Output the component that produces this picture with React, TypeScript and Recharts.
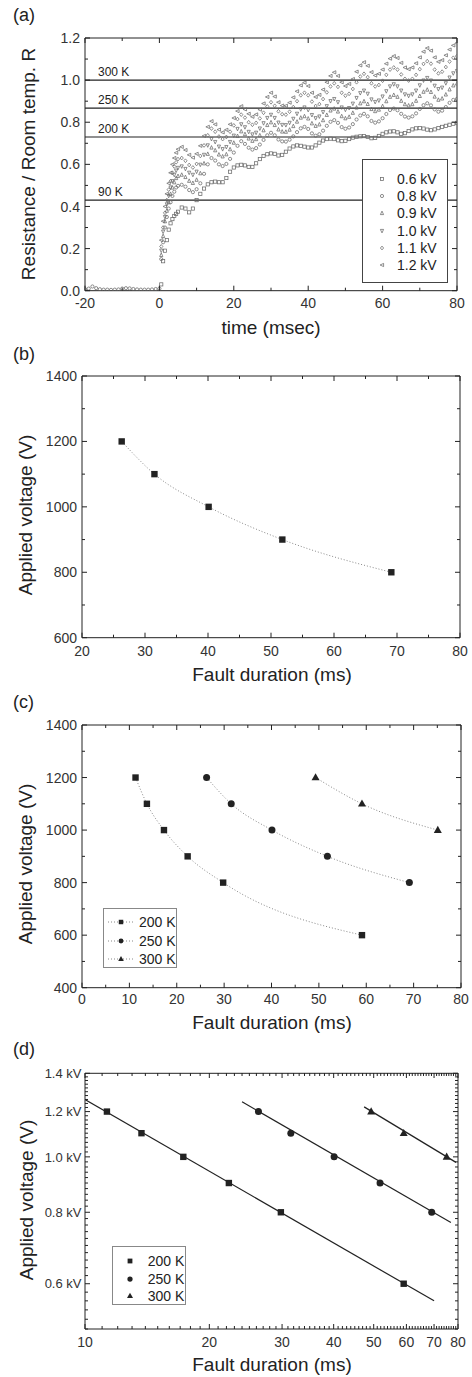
import React from "react";
import {
  ScatterChart,
  Scatter,
  ComposedChart,
  Line,
  XAxis,
  YAxis,
  ReferenceLine,
  Legend,
} from "recharts";

const FONT = "'Liberation Sans', Arial, Helvetica, sans-serif";
const INK = "#222";
const TICK_TXT = "#333";

// ---------- (a) resistance ratio vs time ----------
const timeMs = [
  0.5, 1, 1.5, 2, 2.5, 3, 3.5, 4, 4.5, 5,
  6, 7, 8, 9, 10, 11, 12, 13, 14,
  15, 16, 17, 18, 19, 20, 21, 22,
  23, 24, 25, 26, 27, 28, 29, 30,
  31, 32, 33, 34, 35, 36, 37, 38, 39,
  40, 41, 42, 43, 44, 45, 46, 47,
  48, 49, 50, 51, 52, 53, 54, 55,
  56, 57, 58, 59, 60, 61, 62, 63,
  64, 65, 66, 67, 68, 69, 70, 71, 72,
  73, 74, 75, 76, 77, 78, 79, 80,
];

const r06kV = [
  0.03, 0.14, 0.19, 0.24, 0.29, 0.32, 0.34, 0.355, 0.365, 0.375,
  0.395, 0.39, 0.372, 0.39, 0.43, 0.46, 0.485, 0.505, 0.515,
  0.518, 0.515, 0.515, 0.535, 0.565, 0.585, 0.595, 0.598,
  0.595, 0.588, 0.588, 0.605, 0.625, 0.64, 0.648, 0.652,
  0.65, 0.642, 0.645, 0.66, 0.675, 0.685, 0.69, 0.688, 0.684,
  0.68, 0.68, 0.69, 0.703, 0.713, 0.72, 0.722, 0.72,
  0.714, 0.71, 0.712, 0.72, 0.727, 0.731, 0.733, 0.734,
  0.73, 0.724, 0.726, 0.735, 0.745, 0.752, 0.756, 0.757,
  0.752, 0.745, 0.748, 0.758, 0.766, 0.771, 0.772, 0.77, 0.765,
  0.762, 0.766, 0.772, 0.778, 0.783, 0.788, 0.793, 0.797,
];
const r08kV = [
  0.15, 0.23, 0.3, 0.35, 0.39, 0.42, 0.45, 0.47, 0.49, 0.498,
  0.503, 0.494, 0.478, 0.468, 0.482, 0.51, 0.555, 0.6, 0.63,
  0.618, 0.6, 0.592, 0.602, 0.626, 0.656, 0.688, 0.71,
  0.697, 0.679, 0.67, 0.677, 0.694, 0.716, 0.738, 0.75,
  0.738, 0.718, 0.709, 0.708, 0.717, 0.733, 0.753, 0.771, 0.778,
  0.768, 0.747, 0.736, 0.743, 0.76, 0.783, 0.802, 0.81,
  0.797, 0.777, 0.769, 0.775, 0.791, 0.813, 0.832, 0.84,
  0.828, 0.806, 0.798, 0.804, 0.819, 0.839, 0.858, 0.865,
  0.857, 0.84, 0.827, 0.822, 0.828, 0.842, 0.863, 0.881, 0.89,
  0.88, 0.861, 0.85, 0.855, 0.872, 0.892, 0.906, 0.911,
];
const r09kV = [
  0.17, 0.26, 0.33, 0.38, 0.42, 0.46, 0.49, 0.515, 0.535, 0.545,
  0.551, 0.54, 0.522, 0.512, 0.527, 0.558, 0.605, 0.65, 0.68,
  0.667, 0.647, 0.638, 0.648, 0.672, 0.703, 0.735, 0.757,
  0.744, 0.723, 0.712, 0.72, 0.738, 0.762, 0.787, 0.8,
  0.787, 0.766, 0.756, 0.755, 0.765, 0.782, 0.803, 0.822, 0.829,
  0.818, 0.795, 0.783, 0.79, 0.81, 0.835, 0.856, 0.865,
  0.851, 0.829, 0.819, 0.826, 0.845, 0.87, 0.89, 0.9,
  0.887, 0.863, 0.853, 0.86, 0.877, 0.9, 0.921, 0.93,
  0.921, 0.902, 0.886, 0.88, 0.886, 0.902, 0.925, 0.945, 0.955,
  0.944, 0.922, 0.907, 0.913, 0.932, 0.956, 0.975, 0.984,
];
const r10kV = [
  0.19, 0.28, 0.35, 0.41, 0.45, 0.49, 0.52, 0.55, 0.57, 0.583,
  0.59, 0.578, 0.56, 0.55, 0.565, 0.598, 0.645, 0.69, 0.72,
  0.706, 0.684, 0.672, 0.682, 0.706, 0.736, 0.768, 0.79,
  0.776, 0.754, 0.742, 0.75, 0.77, 0.795, 0.82, 0.835,
  0.82, 0.798, 0.787, 0.786, 0.797, 0.816, 0.84, 0.861, 0.87,
  0.858, 0.834, 0.819, 0.827, 0.848, 0.876, 0.9, 0.91,
  0.895, 0.87, 0.859, 0.867, 0.888, 0.915, 0.938, 0.95,
  0.935, 0.908, 0.896, 0.903, 0.922, 0.947, 0.97, 0.98,
  0.97, 0.95, 0.932, 0.925, 0.932, 0.95, 0.975, 0.998, 1.01,
  0.998, 0.973, 0.957, 0.964, 0.985, 1.012, 1.032, 1.043,
];
const r11kV = [
  0.21, 0.3, 0.37, 0.43, 0.48, 0.52, 0.56, 0.59, 0.61, 0.625,
  0.63, 0.617, 0.597, 0.585, 0.602, 0.64, 0.69, 0.738, 0.77,
  0.755, 0.732, 0.72, 0.73, 0.755, 0.785, 0.815, 0.836,
  0.822, 0.8, 0.788, 0.797, 0.818, 0.845, 0.875, 0.895,
  0.878, 0.852, 0.838, 0.836, 0.85, 0.872, 0.9, 0.928, 0.94,
  0.928, 0.898, 0.877, 0.886, 0.91, 0.942, 0.97, 0.985,
  0.968, 0.94, 0.926, 0.935, 0.958, 0.99, 1.017, 1.03,
  1.014, 0.985, 0.97, 0.977, 0.997, 1.025, 1.05, 1.06,
  1.05, 1.027, 1.006, 0.998, 1.006, 1.025, 1.052, 1.077, 1.09,
  1.078, 1.05, 1.032, 1.04, 1.062, 1.088, 1.106, 1.114,
];
const r12kV = [
  0.24, 0.33, 0.4, 0.46, 0.51, 0.56, 0.6, 0.63, 0.655, 0.672,
  0.683, 0.668, 0.645, 0.632, 0.65, 0.688, 0.735, 0.778, 0.805,
  0.79, 0.765, 0.752, 0.764, 0.79, 0.82, 0.853, 0.876,
  0.861, 0.84, 0.826, 0.837, 0.86, 0.889, 0.92, 0.94,
  0.922, 0.895, 0.879, 0.878, 0.893, 0.918, 0.947, 0.975, 0.988,
  0.972, 0.94, 0.92, 0.93, 0.955, 0.99, 1.02, 1.037,
  1.02, 0.99, 0.972, 0.982, 1.005, 1.04, 1.07, 1.085,
  1.068, 1.038, 1.022, 1.03, 1.05, 1.078, 1.102, 1.114,
  1.105, 1.082, 1.06, 1.052, 1.06, 1.08, 1.108, 1.135, 1.152,
  1.14, 1.108, 1.087, 1.095, 1.118, 1.145, 1.165, 1.176,
];

// baseline before the fault
const preTime = [-20, -19, -18, -17, -16, -15, -14, -13, -12, -11, -10, -9, -8, -7, -6, -5, -4, -3, -2, -1, 0];
const preValue = [0.008, 0.01, 0.02, 0.012, 0.007, 0.005, 0.005, 0.004, 0.005, 0.006, 0.01, 0.012, 0.011, 0.008, 0.006, 0.005, 0.005, 0.005, 0.006, 0.008, 0.01];

const voltLabels = ["0.6 kV", "0.8 kV", "0.9 kV", "1.0 kV", "1.1 kV", "1.2 kV"];
const voltSeries = [r06kV, r08kV, r09kV, r10kV, r11kV, r12kV];
const voltMarkers = ["square", "circle", "up", "down", "diamond", "left"];

const tempLevels = [1.0, 0.867, 0.73, 0.43];
const tempLabels = ["300 K", "250 K", "200 K", "90 K"];

// ---------- (b) ----------
const bDuration = [26.3, 31.5, 40.1, 51.8, 69.1];
const bVoltage = [1200, 1100, 1000, 900, 800];

// ---------- (c) and (d) ----------
const tempNames = ["200 K", "250 K", "300 K"];
const tempMarkers = ["square", "circle", "triangle"];
const dur200 = [11.3, 13.7, 17.3, 22.3, 29.8, 59.1];
const volt200 = [1200, 1100, 1000, 900, 800, 600];
const dur250 = [26.3, 31.5, 40.1, 51.8, 69.1];
const volt250 = [1200, 1100, 1000, 900, 800];
const dur300 = [49.3, 59.1, 75.1];
const volt300 = [1200, 1100, 1000];

// power-law fit lines in (d), read at their ends
const fitDur200 = [10, 70];
const fitVolt200 = [1260, 560];
const fitDur250 = [24, 76.9];
const fitVolt250 = [1248, 768];
const fitDur300 = [47.4, 79.1];
const fitVolt300 = [1223, 978];

const zip = (xs: number[], ys: number[]) => xs.map((x, i) => ({ x, y: ys[i] }));

const cDurations = [dur200, dur250, dur300];
const cVoltages = [volt200, volt250, volt300];
const fitSets = [
  zip(fitDur200, fitVolt200),
  zip(fitDur250, fitVolt250),
  zip(fitDur300, fitVolt300),
];

// tick value lists
const range = (a: number, b: number, s: number) => {
  const out: number[] = [];
  for (let v = a; v <= b + 1e-9; v += s) out.push(Math.round(v * 1000) / 1000);
  return out;
};

// ---------- markers ----------
function OpenMarker({ cx, cy, kind }: { cx: number; cy: number; kind: string }) {
  const r = 1.6;
  const common = { fill: "none", stroke: "#6a6a6a", strokeWidth: 0.75 };
  switch (kind) {
    case "square":
      return <rect x={cx - r} y={cy - r} width={2 * r} height={2 * r} {...common} />;
    case "circle":
      return <circle cx={cx} cy={cy} r={r} {...common} />;
    case "up":
      return <path d={`M${cx},${cy - r - 0.3}L${cx + r},${cy + r}L${cx - r},${cy + r}Z`} {...common} />;
    case "down":
      return <path d={`M${cx},${cy + r + 0.3}L${cx + r},${cy - r}L${cx - r},${cy - r}Z`} {...common} />;
    case "diamond":
      return <path d={`M${cx},${cy - r - 0.3}L${cx + r},${cy}L${cx},${cy + r + 0.3}L${cx - r},${cy}Z`} {...common} />;
    default:
      return <path d={`M${cx - r - 0.3},${cy}L${cx + r},${cy - r}L${cx + r},${cy + r}Z`} {...common} />;
  }
}

function FilledMarker({ cx, cy, kind }: { cx: number; cy: number; kind: string }) {
  if (kind === "square") return <rect x={cx - 3.2} y={cy - 3.2} width={6.4} height={6.4} fill={INK} />;
  if (kind === "circle") return <circle cx={cx} cy={cy} r={3.5} fill={INK} />;
  return <path d={`M${cx},${cy - 4.3}L${cx + 4},${cy + 2.8}L${cx - 4},${cy + 2.8}Z`} fill={INK} />;
}

// ---------- ticks drawn inside the frame on all four sides ----------
type TickCfg = { majors: number[]; fmt: (v: number) => string; span: number; size: number; gap: number };

const isMajor = (majors: number[], v: number) => majors.some((m) => Math.abs(m - v) < 1e-6);

function bottomTick(cfg: TickCfg) {
  return (props: any) => {
    const { x, y, payload } = props;
    const major = isMajor(cfg.majors, payload.value);
    const len = major ? 5 : 3;
    return (
      <g>
        <line x1={x} x2={x} y1={y} y2={y - len} stroke={INK} />
        <line x1={x} x2={x} y1={y - cfg.span} y2={y - cfg.span + len} stroke={INK} />
        {major && (
          <text x={x} y={y + cfg.gap} textAnchor="middle" fontSize={cfg.size} fill={TICK_TXT} fontFamily={FONT}>
            {cfg.fmt(payload.value)}
          </text>
        )}
      </g>
    );
  };
}

function leftTick(cfg: TickCfg) {
  return (props: any) => {
    const { x, y, payload } = props;
    const major = isMajor(cfg.majors, payload.value);
    const len = major ? 5 : 3;
    return (
      <g>
        <line x1={x} x2={x + len} y1={y} y2={y} stroke={INK} />
        <line x1={x + cfg.span} x2={x + cfg.span - len} y1={y} y2={y} stroke={INK} />
        {major && (
          <text x={x - cfg.gap} y={y} dy="0.36em" textAnchor="end" fontSize={cfg.size} fill={TICK_TXT} fontFamily={FONT}>
            {cfg.fmt(payload.value)}
          </text>
        )}
      </g>
    );
  };
}

const xTitle = (text: string, x: number, y: number) => () =>
  (
    <text x={x} y={y} textAnchor="middle" fontSize={19} fill={INK} fontFamily={FONT}>
      {text}
    </text>
  );

const yTitle = (text: string, x: number, y: number, panel: string, py: number) => () =>
  (
    <g>
      <text x={x} y={y} dy="0.35em" textAnchor="middle" fontSize={19} fill={INK} fontFamily={FONT} transform={`rotate(-90 ${x} ${y})`}>
        {text}
      </text>
      <text x={13} y={py} fontSize={18} fill={INK} fontFamily={FONT}>
        {panel}
      </text>
    </g>
  );

// ---------- panel (a) ----------
function PanelA() {
  const legendA = () => (
    <div
      style={{
        width: 86,
        height: 124,
        border: "1px solid #444",
        boxSizing: "border-box",
        background: "#fff",
        paddingTop: 10,
        fontFamily: FONT,
        fontSize: 14,
        color: INK,
      }}
    >
      {voltLabels.map((name, i) => (
        <div key={name} style={{ display: "flex", alignItems: "center", height: 17.3 }}>
          <svg width={10} height={10} style={{ marginLeft: 14 }}>
            <OpenMarker cx={5} cy={5} kind={voltMarkers[i]} />
          </svg>
          <span style={{ marginLeft: 10, lineHeight: "14px" }}>{name}</span>
        </div>
      ))}
    </div>
  );

  const preData = zip(preTime, preValue);

  return (
    <ScatterChart width={472} height={340} margin={{ top: 38, right: 15, bottom: 0, left: 0 }}>
      <XAxis
        type="number"
        dataKey="x"
        domain={[-20, 80]}
        ticks={range(-20, 80, 10)}
        interval={0}
        allowDataOverflow
        height={49.3}
        tickSize={0}
        tickMargin={0}
        tickLine={false}
        axisLine={{ stroke: INK }}
        tick={bottomTick({ majors: [-20, 0, 20, 40, 60, 80], fmt: (v) => String(v), span: 252.7, size: 14, gap: 17 })}
        label={xTitle("time (msec)", 271, 334)}
      />
      <YAxis
        type="number"
        dataKey="y"
        domain={[0, 1.2]}
        ticks={range(0, 1.2, 0.1)}
        interval={0}
        allowDataOverflow
        width={85}
        tickSize={0}
        tickMargin={0}
        tickLine={false}
        axisLine={{ stroke: INK }}
        tick={leftTick({ majors: [0, 0.2, 0.4, 0.6, 0.8, 1.0, 1.2], fmt: (v) => v.toFixed(1), span: 372, size: 14, gap: 5 })}
        label={yTitle("Resistance / Room temp. R", 28, 164, "(a)", 21)}
      />
      <Scatter
        data={preData}
        isAnimationActive={false}
        legendType="none"
        shape={(p: any) => <OpenMarker cx={p.cx} cy={p.cy} kind="circle" />}
      />
      {voltSeries.map((vals, i) => (
        <Scatter
          key={voltLabels[i]}
          name={voltLabels[i]}
          data={zip(timeMs, vals)}
          isAnimationActive={false}
          shape={(p: any) => <OpenMarker cx={p.cx} cy={p.cy} kind={voltMarkers[i]} />}
        />
      ))}
      {tempLevels.map((lv, i) => (
        <ReferenceLine
          key={tempLabels[i]}
          y={lv}
          stroke={INK}
          strokeWidth={1.1}
          label={(p: any) => {
            const vy = p && p.viewBox ? p.viewBox.y : 0;
            return (
              <text x={98} y={vy - 4} fontSize={12} fill={INK} fontFamily={FONT}>
                {tempLabels[i]}
              </text>
            );
          }}
        />
      ))}
      <ReferenceLine y={1.2} stroke={INK} />
      <ReferenceLine x={80} stroke={INK} />
      <Legend
        content={legendA}
        layout="vertical"
        align="center"
        verticalAlign="middle"
        wrapperStyle={{ left: 362, top: 159, width: 86, height: 124 }}
      />
    </ScatterChart>
  );
}

// ---------- panel (b) ----------
function PanelB() {
  return (
    <ComposedChart width={472} height={350} margin={{ top: 36, right: 12, bottom: 0, left: 0 }}>
      <XAxis
        type="number"
        dataKey="x"
        domain={[20, 80]}
        ticks={range(20, 80, 5)}
        interval={0}
        allowDataOverflow
        height={52.3}
        tickSize={0}
        tickMargin={0}
        tickLine={false}
        axisLine={{ stroke: INK }}
        tick={bottomTick({ majors: [20, 30, 40, 50, 60, 70, 80], fmt: (v) => String(v), span: 261.7, size: 14, gap: 18.5 })}
        label={xTitle("Fault duration (ms)", 272, 341)}
      />
      <YAxis
        type="number"
        dataKey="y"
        domain={[600, 1400]}
        ticks={range(600, 1400, 100)}
        interval={0}
        allowDataOverflow
        width={82}
        tickSize={0}
        tickMargin={0}
        tickLine={false}
        axisLine={{ stroke: INK }}
        tick={leftTick({ majors: [600, 800, 1000, 1200, 1400], fmt: (v) => String(v), span: 378, size: 14, gap: 5 })}
        label={yTitle("Applied voltage (V)", 25, 175, "(b)", 20)}
      />
      <Line
        data={zip(bDuration, bVoltage)}
        dataKey="y"
        type="monotone"
        stroke="#888"
        strokeWidth={1}
        strokeDasharray="1 2"
        isAnimationActive={false}
        activeDot={false}
        dot={(p: any) => <FilledMarker key={p.index} cx={p.cx} cy={p.cy} kind="square" />}
      />
      <ReferenceLine y={1400} stroke={INK} />
      <ReferenceLine x={80} stroke={INK} />
    </ComposedChart>
  );
}

// ---------- panel (c) ----------
function PanelC() {
  const legendC = () => (
    <div
      style={{
        width: 74,
        height: 60,
        border: "1px solid #888",
        boxSizing: "border-box",
        background: "#fff",
        paddingTop: 4,
        fontFamily: FONT,
        fontSize: 14,
        color: INK,
      }}
    >
      {tempNames.map((name, i) => (
        <div key={name} style={{ display: "flex", alignItems: "center", height: 18.5 }}>
          <svg width={26} height={12} style={{ marginLeft: 4 }}>
            <line x1={0} x2={26} y1={6} y2={6} stroke="#888" strokeDasharray="1 2" />
            <g transform="translate(13 6) scale(0.7) translate(-13 -6)">
              <FilledMarker cx={13} cy={6} kind={tempMarkers[i]} />
            </g>
          </svg>
          <span style={{ marginLeft: 5, lineHeight: "14px" }}>{name}</span>
        </div>
      ))}
    </div>
  );

  return (
    <ComposedChart width={472} height={345} margin={{ top: 35, right: 11, bottom: 0, left: 0 }}>
      <XAxis
        type="number"
        dataKey="x"
        domain={[0, 80]}
        ticks={range(0, 80, 5)}
        interval={0}
        allowDataOverflow
        height={47.3}
        tickSize={0}
        tickMargin={0}
        tickLine={false}
        axisLine={{ stroke: INK }}
        tick={bottomTick({ majors: range(0, 80, 10), fmt: (v) => String(v), span: 262.7, size: 14, gap: 16.5 })}
        label={xTitle("Fault duration (ms)", 272, 339)}
      />
      <YAxis
        type="number"
        dataKey="y"
        domain={[400, 1400]}
        ticks={range(400, 1400, 100)}
        interval={0}
        allowDataOverflow
        width={82}
        tickSize={0}
        tickMargin={0}
        tickLine={false}
        axisLine={{ stroke: INK }}
        tick={leftTick({ majors: [400, 600, 800, 1000, 1200, 1400], fmt: (v) => String(v), span: 379, size: 14, gap: 5 })}
        label={yTitle("Applied voltage (V)", 25, 174, "(c)", 18)}
      />
      {tempNames.map((name, i) => (
        <Line
          key={name}
          name={name}
          data={zip(cDurations[i], cVoltages[i])}
          dataKey="y"
          type="monotone"
          stroke="#888"
          strokeWidth={1}
          strokeDasharray="1 2"
          isAnimationActive={false}
          activeDot={false}
          dot={(p: any) => <FilledMarker key={p.index} cx={p.cx} cy={p.cy} kind={tempMarkers[i]} />}
        />
      ))}
      <ReferenceLine y={1400} stroke={INK} />
      <ReferenceLine x={80} stroke={INK} />
      <Legend
        content={legendC}
        layout="vertical"
        align="center"
        verticalAlign="middle"
        wrapperStyle={{ left: 103, top: 218, width: 74, height: 60 }}
      />
    </ComposedChart>
  );
}

// ---------- panel (d) ----------
function PanelD() {
  const legendD = () => (
    <div
      style={{
        width: 74,
        height: 59,
        border: "1px solid #888",
        boxSizing: "border-box",
        background: "#fff",
        paddingTop: 5,
        fontFamily: FONT,
        fontSize: 14,
        color: INK,
      }}
    >
      {tempNames.map((name, i) => (
        <div key={name} style={{ display: "flex", alignItems: "center", height: 17.7 }}>
          <svg width={12} height={12} style={{ marginLeft: 11 }}>
            <g transform="translate(6 6) scale(0.75) translate(-6 -6)">
              <FilledMarker cx={6} cy={6} kind={tempMarkers[i]} />
            </g>
          </svg>
          <span style={{ marginLeft: 12, lineHeight: "14px" }}>{name}</span>
        </div>
      ))}
    </div>
  );

  return (
    <ComposedChart width={472} height={342} margin={{ top: 38.3, right: 14, bottom: 0, left: 0 }}>
      <XAxis
        type="number"
        dataKey="x"
        scale="log"
        domain={[10, 80]}
        ticks={range(10, 80, 1)}
        interval={0}
        allowDataOverflow
        height={48}
        tickSize={0}
        tickMargin={0}
        tickLine={false}
        axisLine={{ stroke: INK }}
        tick={bottomTick({ majors: range(10, 80, 10), fmt: (v) => String(v), span: 256, size: 14, gap: 17.5 })}
        label={xTitle("Fault duration (ms)", 272, 336)}
      />
      <YAxis
        type="number"
        dataKey="y"
        scale="log"
        domain={[500, 1400]}
        ticks={range(500, 1400, 20)}
        interval={0}
        allowDataOverflow
        width={85}
        tickSize={0}
        tickMargin={0}
        tickLine={false}
        axisLine={{ stroke: INK }}
        tick={leftTick({ majors: [600, 800, 1000, 1200, 1400], fmt: (v) => `${(v / 1000).toFixed(1)} kV`, span: 373, size: 13, gap: 3.5 })}
        label={yTitle("Applied voltage (V)", 26, 165, "(d)", 19.5)}
      />
      {tempNames.map((name, i) => (
        <Line
          key={`fit-${name}`}
          data={fitSets[i]}
          dataKey="y"
          type="linear"
          stroke={INK}
          strokeWidth={1.2}
          dot={false}
          activeDot={false}
          legendType="none"
          isAnimationActive={false}
        />
      ))}
      {tempNames.map((name, i) => (
        <Scatter
          key={name}
          name={name}
          data={zip(cDurations[i], cVoltages[i])}
          isAnimationActive={false}
          shape={(p: any) => <FilledMarker cx={p.cx} cy={p.cy} kind={tempMarkers[i]} />}
        />
      ))}
      <ReferenceLine y={1400} stroke={INK} />
      <ReferenceLine x={80} stroke={INK} />
      <Legend
        content={legendD}
        layout="vertical"
        align="center"
        verticalAlign="middle"
        wrapperStyle={{ left: 111.7, top: 211, width: 74, height: 59 }}
      />
    </ComposedChart>
  );
}

export default function App() {
  return (
    <div style={{ position: "absolute", left: 0, top: 0, width: 472, height: 1377, background: "#fff", fontFamily: FONT }}>
      <div style={{ position: "absolute", left: 0, top: 0 }}>
        <PanelA />
      </div>
      <div style={{ position: "absolute", left: 0, top: 340 }}>
        <PanelB />
      </div>
      <div style={{ position: "absolute", left: 0, top: 690 }}>
        <PanelC />
      </div>
      <div style={{ position: "absolute", left: 0, top: 1035 }}>
        <PanelD />
      </div>
    </div>
  );
}
